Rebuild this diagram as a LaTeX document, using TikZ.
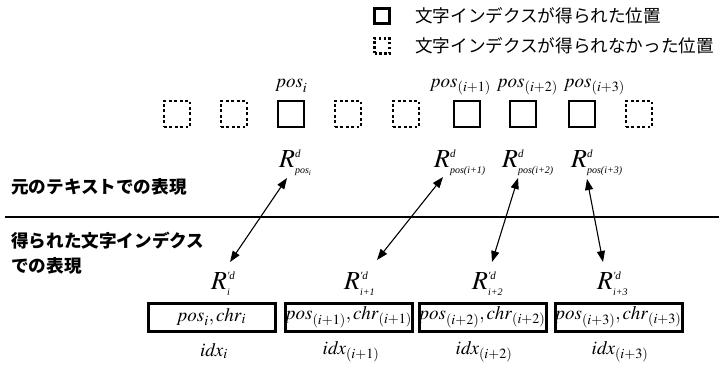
\documentclass[tikz,border=0pt]{standalone}
\usepackage{mathptmx}
\usepackage[no-math]{fontspec}
\setmainfont{Liberation Serif}
\newfontfamily\jp{Noto Sans CJK JP}
\usetikzlibrary{arrows.meta}
\newcommand{\tinyit}[2]{\mbox{\fontsize{#1}{#1}\selectfont\itshape #2}}
\newcommand{\Rtop}[1]{$R^{\tinyit{11}{d}}_{\tinyit{10}{#1}}$}
\newcommand{\Rbot}[1]{$R^{\tinyit{11}{\textquotesingle d}}_{\tinyit{10}{#1}}$}
\begin{document}
\begin{tikzpicture}[x=1pt,y=-1pt,
  solidsq/.style={draw, line width=2.9pt, minimum width=26pt, minimum height=26pt, inner sep=0pt},
  dotsq/.style={draw, line width=2.9pt, dash pattern=on 2.8pt off 2.6pt, minimum width=26pt, minimum height=26pt, inner sep=0pt},
  legsolid/.style={draw, line width=2.7pt, minimum width=15pt, minimum height=15pt, inner sep=0pt},
  legdot/.style={draw, line width=2.7pt, dash pattern=on 2.4pt off 2.4pt, minimum width=15pt, minimum height=15pt, inner sep=0pt},
  jptext/.style={font=\jp\fontsize{17.6}{20}\selectfont, inner sep=0pt, anchor=west},
  jpbold/.style={font=\jp\bfseries\fontsize{17.6}{20}\selectfont, inner sep=0pt, anchor=west},
  poslab/.style={font=\fontsize{19}{21}\selectfont, inner sep=0pt},
  rlab/.style={font=\fontsize{26}{28}\selectfont, inner sep=0pt, anchor=west},
  idxbox/.style={draw, line width=3pt, minimum width=127pt, minimum height=28pt, inner sep=0pt, font=\fontsize{19}{21}\selectfont},
  idxlab/.style={font=\fontsize{19}{21}\selectfont, inner sep=0pt},
  biarrow/.style={line width=1.1pt, {Triangle[length=11pt,width=8pt]}-{Triangle[length=11pt,width=8pt]}}
]
\useasboundingbox (0,0) rectangle (719,366);

% legend
\node[legsolid] (lg1) at (382,16) {};
\node[legdot] (lg2) at (382,46) {};
\node[jptext] (lt1) at (415,16) {文字インデクスが得られた位置};
\node[jptext] (lt2) at (415,46) {文字インデクスが得られなかった位置};

% row of positions
\node[dotsq] (s0) at (177,114) {};
\node[dotsq] (s1) at (234,114) {};
\node[solidsq] (s2) at (291,114) {};
\node[dotsq] (s3) at (348,114) {};
\node[dotsq] (s4) at (406,114) {};
\node[solidsq] (s5) at (467,114) {};
\node[solidsq] (s6) at (523,114) {};
\node[solidsq] (s7) at (582,114) {};
\node[dotsq] (s8) at (639,114) {};

\node[poslab] (p0) at (292,86) {$\mathit{pos}_i$};
\node[poslab] (p1) at (461,87) {$\mathit{pos}_{(i+1)}$};
\node[poslab] (p2) at (528,87) {$\mathit{pos}_{(i+2)}$};
\node[poslab] (p3) at (595,87) {$\mathit{pos}_{(i+3)}$};

\node[rlab] (r0) at (279,163) {\Rtop{pos\textsubscript{i}}};
\node[rlab] (r1) at (434,163) {\Rtop{pos(i+1)}};
\node[rlab] (r2) at (502,163) {\Rtop{pos(i+2)}};
\node[rlab] (r3) at (571,163) {\Rtop{pos(i+3)}};

% separator and side labels
\draw[line width=1.3pt] (5,217) -- (719,217);
\node[jpbold] (side1) at (11,187) {元のテキストでの表現};
\node[jpbold] (side2) at (11,241) {得られた文字インデクス};
\node[jpbold] (side3) at (11,266) {での表現};

% lower labels
\node[rlab] (q0) at (211,284) {\Rbot{i}};
\node[rlab] (q1) at (344,284) {\Rbot{i+1}};
\node[rlab] (q2) at (472,284) {\Rbot{i+2}};
\node[rlab] (q3) at (597,284) {\Rbot{i+3}};

\node[idxbox] (b0) at (212,317) {$\mathit{pos}_i,\mathit{chr}_i$};
\node[idxbox] (b1) at (349,317) {$\mathit{pos}_{(i+1)},\mathit{chr}_{(i+1)}$};
\node[idxbox] (b2) at (482.5,317) {$\mathit{pos}_{(i+2)},\mathit{chr}_{(i+2)}$};
\node[idxbox] (b3) at (618.5,317) {$\mathit{pos}_{(i+3)},\mathit{chr}_{(i+3)}$};

\node[idxlab] (i0) at (214,351) {$\mathit{idx}_i$};
\node[idxlab] (i1) at (351,352) {$\mathit{idx}_{(i+1)}$};
\node[idxlab] (i2) at (484,352) {$\mathit{idx}_{(i+2)}$};
\node[idxlab] (i3) at (620,352) {$\mathit{idx}_{(i+3)}$};

% arrow ends
\coordinate (a0t) at (287,178); \coordinate (a0b) at (230,262);
\coordinate (a1t) at (443,177); \coordinate (a1b) at (377,260);
\coordinate (a2t) at (518,178); \coordinate (a2b) at (492,262);
\coordinate (a3t) at (587,179); \coordinate (a3b) at (603,262);
\draw[biarrow] (a0t) -- (a0b);
\draw[biarrow] (a1t) -- (a1b);
\draw[biarrow] (a2t) -- (a2b);
\draw[biarrow] (a3t) -- (a3b);
\end{tikzpicture}
\end{document}
